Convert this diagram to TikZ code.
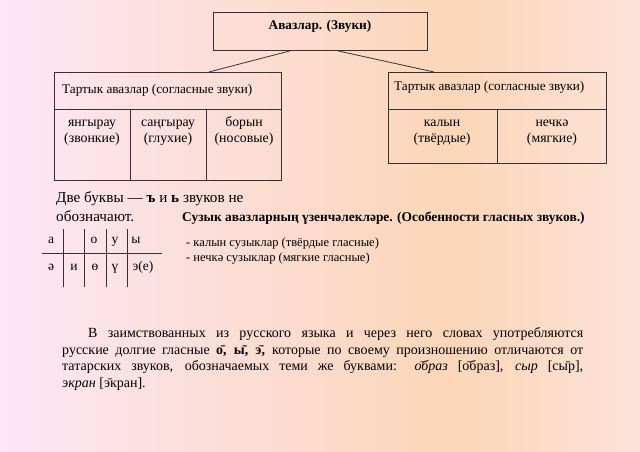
\documentclass[tikz,border=0pt]{standalone}
\usepackage{fontspec}
\setmainfont{Liberation Serif}
\usetikzlibrary{calc}
\definecolor{bgpink}{HTML}{FDE6F6}
\definecolor{bgpeach}{HTML}{FBD6B8}
\definecolor{bgright}{HTML}{FCE2D8}
\tikzset{
  box/.style={draw=black!80, line width=0.8pt, anchor=north west, inner sep=0pt},
  grid/.style={draw=black!80, line width=0.8pt},
  txt/.style={inner sep=0pt, font=\fontsize{13.2}{16}\selectfont},
  cell/.style={inner sep=0pt, font=\fontsize{13.8}{16}\selectfont, align=center, anchor=base},
  link/.style={draw=black!80, line width=0.8pt},
}
\begin{document}
\begin{tikzpicture}[x=1pt,y=-1pt]
\useasboundingbox (0,0) rectangle (640,452);
\shade[left color=bgpink, right color=bgpeach] (0,0) rectangle (450,452);
\shade[left color=bgpeach, right color=bgright] (450,0) rectangle (640,452);

% top box
\node[box, minimum width=214pt, minimum height=38pt] (top) at (213,12) {};
\node[txt, font=\fontsize{13.3}{15}\selectfont\bfseries, anchor=base] (toptxt) at (320,30) {Авазлар. (Звуки)};

% left box
\node[box, minimum width=227pt, minimum height=108pt] (lbox) at (54,72) {};
\draw[grid] (54,109) -- (281,109);
\draw[grid] (130,109) -- (130,180);
\draw[grid] (206,109) -- (206,180);
\node[txt, anchor=base west] (lhead) at (62,93) {Тартык авазлар (согласные звуки)};
\node[cell] (c1) at (92,142) {янгырау\\(звонкие)};
\node[cell] (c2) at (168,142) {саңгырау\\(глухие)};
\node[cell] (c3) at (244,142) {борын\\(носовые)};

% right box
\node[box, minimum width=218pt, minimum height=91pt] (rbox) at (388,72) {};
\draw[grid] (388,109) -- (606,109);
\draw[grid] (497,109) -- (497,163);
\node[txt, anchor=base west] (rhead) at (394,90) {Тартык авазлар (согласные звуки)};
\node[cell] (c4) at (442,142) {калын\\(твёрдые)};
\node[cell] (c5) at (552,142) {нечкә\\(мягкие)};

% connectors
\coordinate (tl) at ($(top.south west)!0.36!(top.south east)$);
\coordinate (tr) at ($(top.south west)!0.58!(top.south east)$);
\coordinate (lt) at ($(lbox.north west)!0.68!(lbox.north east)$);
\coordinate (rt) at ($(rbox.north west)!0.21!(rbox.north east)$);
\draw[link] (tl) -- (lt);
\draw[link] (tr) -- (rt);

% note
\node[txt, anchor=base west, align=left, font=\fontsize{15.2}{19}\selectfont] (note) at (56,221) {Две буквы — \textbf{ъ} и \textbf{ь} звуков не\\обозначают.};

% vowel heading
\node[txt, anchor=base west, font=\fontsize{13.4}{15}\selectfont\bfseries] (vhead) at (182,221) {Сузык авазларның үзенчәлекләре. (Особенности гласных звуков.)};
\node[txt, anchor=base west, align=left, font=\fontsize{12.5}{15}\selectfont] (vlist) at (186,261) {- калын сузыклар (твёрдые гласные)\\- нечкә сузыклар (мягкие гласные)};

% vowel table
\draw[grid] (42,253) -- (162,253);
\foreach \xx in {63,84,106,127} \draw[grid] (\xx,229) -- (\xx,287);
\foreach \ch/\xx in {а/51,о/94,у/115,ы/136}
  \node[txt, font=\fontsize{13.5}{15}\selectfont, anchor=base] at (\xx,243) {\ch};
\foreach \ch/\xx in {ә/51,и/74,ө/95,ү/115,э(е)/143}
  \node[txt, font=\fontsize{13.5}{15}\selectfont, anchor=base] at (\xx,270) {\ch};

% paragraph
\node[txt, anchor=north west, text width=521pt, align=justify, font=\fontsize{14}{16.5}\selectfont] (para) at (62,327.5) {\hspace*{26pt}В заимствованных из русского языка и через него словах употребляются\linebreak
русские долгие гласные \textbf{о̄, ы̄, э̄,} которые по своему произношению отличаются от\linebreak
татарских звуков, обозначаемых теми же буквами: \textit{о̄браз} [о̄браз], \textit{сыр} [сы̄р],\linebreak
\textit{экран} [э̄кран].};
\end{tikzpicture}
\end{document}
